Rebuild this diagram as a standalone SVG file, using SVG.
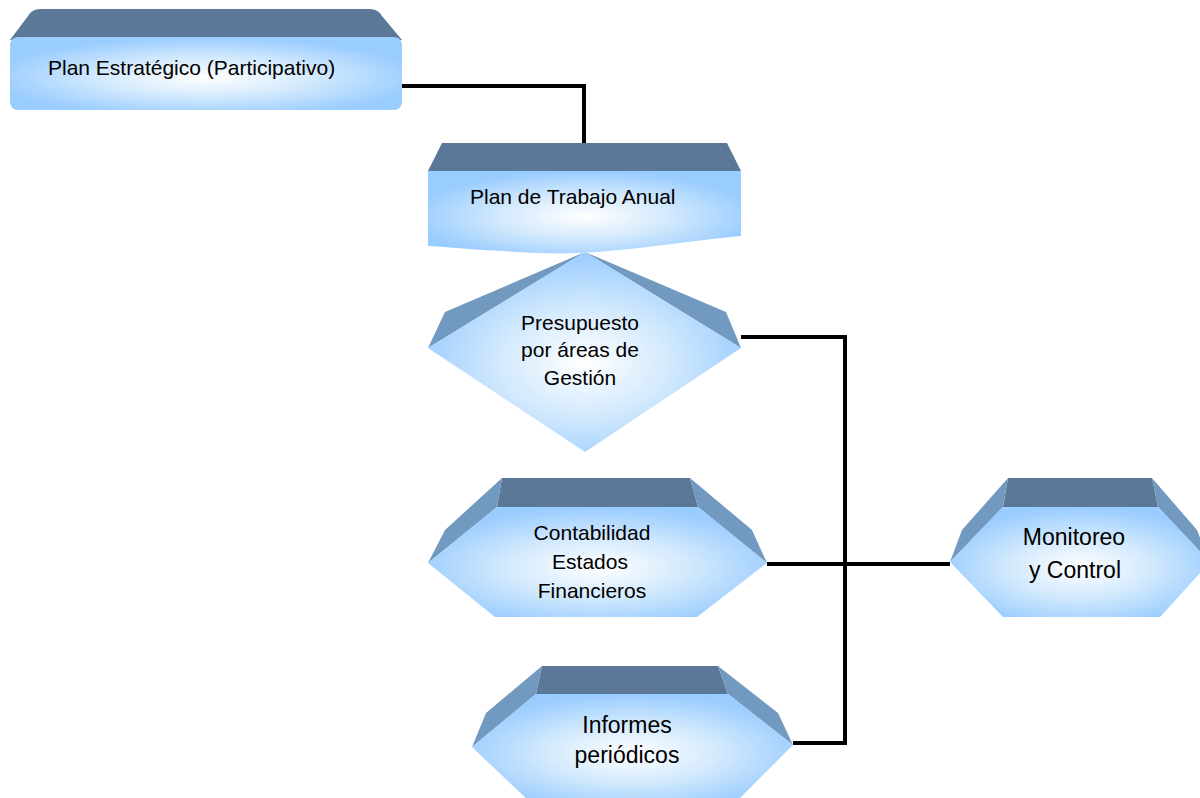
<svg xmlns="http://www.w3.org/2000/svg" width="1200" height="798" viewBox="0 0 1200 798">
  <defs>
    <radialGradient id="face" cx="0.5" cy="0.55" r="0.55">
      <stop offset="0" stop-color="#ffffff"/>
      <stop offset="0.5" stop-color="#d2e9fd"/>
      <stop offset="1" stop-color="#99ccff"/>
    </radialGradient>
    <style>
      .face { fill: url(#face); }
      .top { fill: #5b7898; }
      .side { fill: #7299c0; }
      .lbl { font-family: "Liberation Sans", Arial, sans-serif; font-size: 21px; fill: #000; }
      .big { font-size: 23px; }
      .mid { text-anchor: middle; }
      .wire { fill: none; stroke: #000; stroke-width: 4; stroke-linejoin: miter; }
    </style>
  </defs>

  <rect width="1200" height="798" fill="#ffffff"/>

  <!-- connectors -->
  <g id="connectors">
    <polyline class="wire" points="402,86 584,86 584,171"/>
    <polyline class="wire" points="741,337 845,337 845,743 793,743"/>
    <line class="wire" x1="767" y1="564" x2="950" y2="564"/>
  </g>

  <!-- Presupuesto (beveled diamond) -->
  <g id="presupuesto">
    <polygon class="side" points="585,252 445,312 428,348"/>
    <polygon class="side" points="585,252 726,312 741,348"/>
    <polygon class="face" points="585,252 741,348 585,452 428,348"/>
    <text class="lbl mid" x="580" y="330">Presupuesto</text>
    <text class="lbl mid" x="580" y="357">por áreas de</text>
    <text class="lbl mid" x="580" y="385">Gestión</text>
  </g>

  <!-- Plan Estratégico (beveled rounded box) -->
  <g id="plan-estrategico">
    <path class="top" d="M40,9 H370 Q378,9 382,16 L402,40 H10 L28,16 Q32,9 40,9 Z"/>
    <rect class="face" x="10" y="37" width="392" height="73" rx="8" ry="8"/>
    <text class="lbl" x="48" y="75">Plan Estratégico (Participativo)</text>
  </g>

  <!-- Plan de Trabajo Anual (beveled document) -->
  <g id="plan-trabajo">
    <polygon class="top" points="442,143 727,143 741,171 428,171"/>
    <path class="face" d="M428,171 H741 V236 C660,244 600,256 540,253 C490,251 460,248 428,246 Z"/>
    <text class="lbl" x="470" y="204">Plan de Trabajo Anual</text>
  </g>

  <!-- Contabilidad (beveled hexagon) -->
  <g id="contabilidad">
    <polygon class="top" points="502,478 690,478 698,507 497,507"/>
    <polygon class="side" points="502,478 445,530 428,563 497,507"/>
    <polygon class="side" points="690,478 752,530 767,563 698,507"/>
    <polygon class="face" points="497,507 698,507 767,563 697,617 495,617 428,563"/>
    <text class="lbl mid" x="592" y="540">Contabilidad</text>
    <text class="lbl mid" x="590" y="569">Estados</text>
    <text class="lbl mid" x="592" y="598">Financieros</text>
  </g>

  <!-- Informes (beveled hexagon) -->
  <g id="informes">
    <polygon class="top" points="542,666 718,666 728,694 536,694"/>
    <polygon class="side" points="542,666 486,713 472,747 536,694"/>
    <polygon class="side" points="718,666 778,713 793,745 728,694"/>
    <polygon class="face" points="536,694 728,694 793,745 736,802 530,802 472,747"/>
    <text class="lbl big mid" x="627" y="733">Informes</text>
    <text class="lbl big mid" x="627" y="763">periódicos</text>
  </g>

  <!-- Monitoreo y Control (beveled hexagon) -->
  <g id="monitoreo">
    <polygon class="top" points="1008,478 1152,478 1158,507 1003,507"/>
    <polygon class="side" points="1008,478 962,530 950,562 1003,507"/>
    <polygon class="side" points="1152,478 1197,530 1210,562 1158,507"/>
    <polygon class="face" points="1003,507 1158,507 1210,562 1160,617 1003,617 950,562"/>
    <text class="lbl big mid" x="1074" y="545">Monitoreo</text>
    <text class="lbl big mid" x="1075" y="578">y Control</text>
  </g>
</svg>
